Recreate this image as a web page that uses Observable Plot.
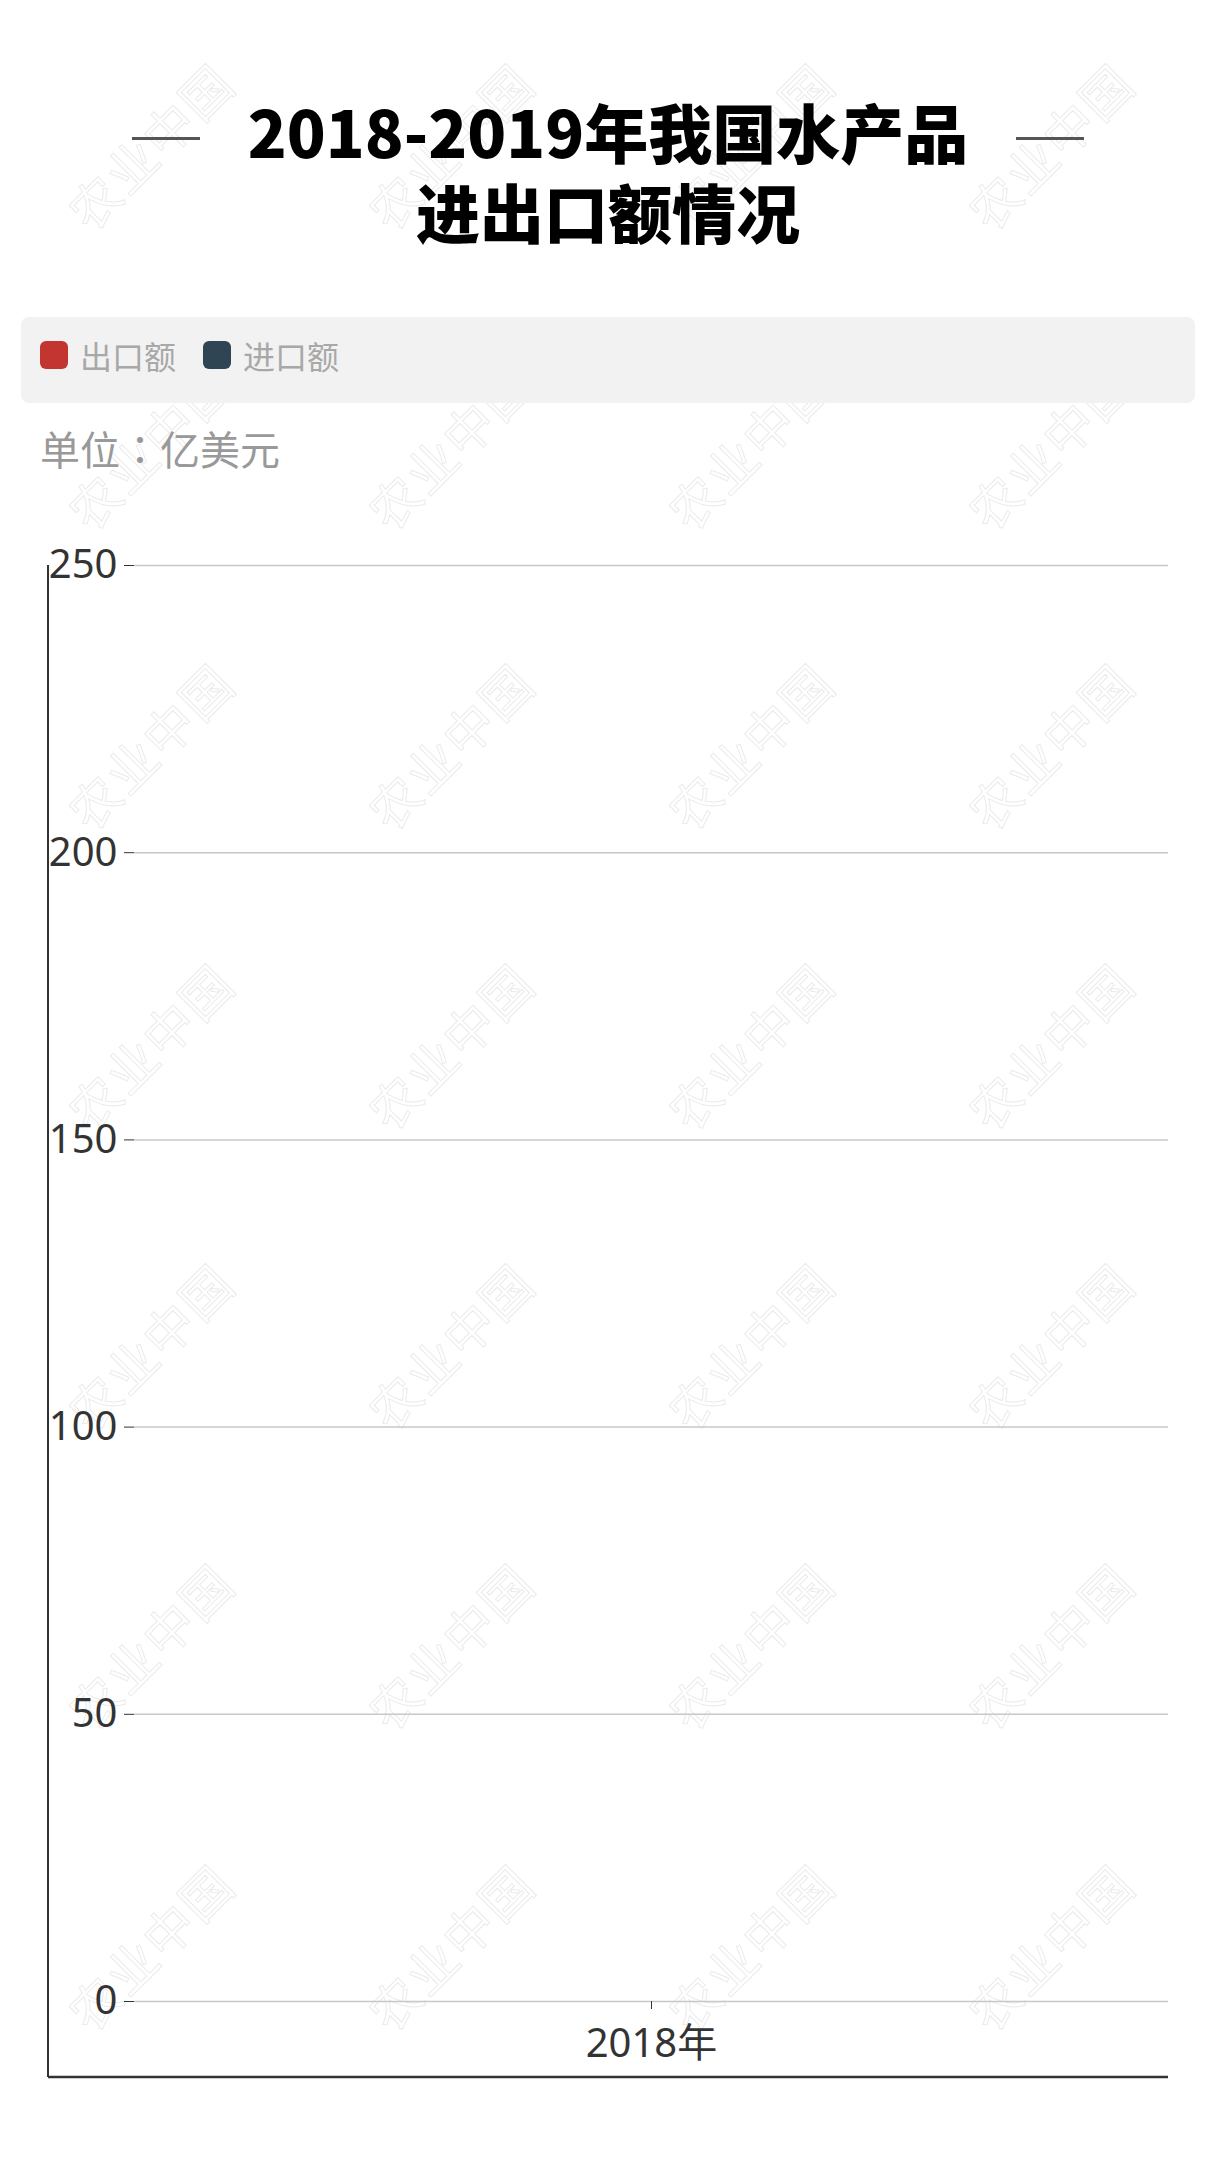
<!DOCTYPE html>
<html>
<head>
<meta charset="utf-8">
<script src="https://cdn.jsdelivr.net/npm/d3@7"></script>
<script src="https://cdn.jsdelivr.net/npm/@observablehq/plot@0.6"></script>
<style>
  html, body { margin: 0; padding: 0; background: #fff; }
  #page { position: relative; width: 1216px; height: 2160px; overflow: hidden; font-family: "Noto Sans CJK SC", "Noto Sans", sans-serif; }
  .wm { position: absolute; font-size: 50px; white-space: nowrap; color: transparent; -webkit-text-stroke: 1px #ebebeb; transform: translate(-50%, -50%) rotate(-45deg); z-index: 0; letter-spacing: 2px; }
  #title { position: absolute; left: 0; top: 90px; width: 1216px; text-align: center; font-size: 64px; font-weight: 900; line-height: 80px; color: #000; z-index: 2; }
  .dash { position: absolute; top: 137px; width: 68px; height: 3px; background: #555; z-index: 2; }
  #legend { position: absolute; left: 21px; top: 317px; width: 1174px; height: 86px; background: #f2f2f2; border-radius: 8px; display: flex; align-items: center; padding-left: 19px; padding-bottom: 10px; box-sizing: border-box; z-index: 2; }
  .item { display: flex; align-items: center; margin-right: 27px; font-size: 32px; color: #a8a8a8; }
  .sw { width: 28px; height: 28px; border-radius: 6px; margin-right: 12px; }
  #unit { position: absolute; left: 40px; top: 422px; font-size: 40px; line-height: 52px; color: #999; z-index: 2; font-family: "Noto Sans CJK TC", "Noto Sans CJK SC", sans-serif; }
  #chart { position: absolute; left: 0; top: 500px; z-index: 1; }
</style>
</head>
<body>
<div id="page">
  <div id="title"></div>
  <div class="dash" style="left:132px"></div>
  <div class="dash" style="left:1016px"></div>
  <div id="legend"></div>
  <div id="unit"></div>
  <div id="chart"></div>
</div>
<script>
// ---- data ----
const titleLines = ["2018-2019年我国水产品", "进出口额情况"];
const unitLabel = "单位：亿美元";
const categories = ["2018年"];
const seriesNames = ["出口额", "进口额"];
// The reference shows the bars at zero height (captured before they grew in).
const exportValues = [0];
const importValues = [0];
const yTicks = [0, 50, 100, 150, 200, 250];
const seriesColors = ["#c23531", "#2f4554"];
const watermarkText = "农业中国";
const watermarkCols = [149, 449, 749, 1049];
const watermarkRows = [145, 445, 745, 1045, 1345, 1645, 1946];

(function () {
  // ---- page text ----
  const page = document.getElementById("page");
  for (const wy of watermarkRows) for (const wx of watermarkCols) {
    const s = document.createElement("div");
    s.className = "wm";
    s.style.left = wx + "px";
    s.style.top = wy + "px";
    s.textContent = watermarkText;
    page.appendChild(s);
  }
  const t = document.getElementById("title");
  t.appendChild(document.createTextNode(titleLines[0]));
  t.appendChild(document.createElement("br"));
  t.appendChild(document.createTextNode(titleLines[1]));
  document.getElementById("unit").textContent = unitLabel;
  document.getElementById("legend").innerHTML = seriesNames.map((n, i) =>
    `<div class="item"><div class="sw" style="background:${seriesColors[i]}"></div>${n}</div>`).join("");

  // ---- chart ----
  const rows = categories.flatMap((c, i) => [
    {category: c, series: seriesNames[0], value: exportValues[i]},
    {category: c, series: seriesNames[1], value: importValues[i]}
  ]);

  const chart = Plot.plot({
    width: 1216,
    height: 1620,
    marginTop: 65,
    marginBottom: 119,
    marginLeft: 134,
    marginRight: 48,
    style: {fontFamily: "'Noto Sans', 'Noto Sans CJK SC', sans-serif", fontSize: "40px", color: "#333", background: "transparent", overflow: "visible"},
    fx: {domain: categories, padding: 0, label: null},
    x: {domain: seriesNames, axis: null, padding: 0.3},
    y: {domain: [0, 250], label: null},
    color: {domain: seriesNames, range: seriesColors},
    marks: [
      Plot.gridY(yTicks, {stroke: "#c8c8c8", strokeOpacity: 1, strokeWidth: 1.5}),
      Plot.axisY(yTicks, {tickSize: 10, tickPadding: 7, fontSize: 40, stroke: "#333", label: null}),
      Plot.axisFx({anchor: "bottom", tickSize: 8, tickPadding: 19, fontSize: 40, stroke: "#333", label: null}),
      Plot.barY(rows, {fx: "category", x: "series", y: "value", fill: "series"})
    ]
  });
  document.getElementById("chart").appendChild(chart);

  // outer axis frame lines (left and bottom)
  const ys = chart.scale("y");
  const svg = d3.select(chart);
  const frameTop = ys.apply(250);
  const frameBottom = 1577;
  const frameLeft = 48;
  const frameRight = 1216 - 48;
  svg.append("line").attr("x1", frameLeft).attr("x2", frameLeft).attr("y1", frameTop).attr("y2", frameBottom)
    .attr("stroke", "#333").attr("stroke-width", 2);
  svg.append("line").attr("x1", frameLeft).attr("x2", frameRight).attr("y1", frameBottom).attr("y2", frameBottom)
    .attr("stroke", "#333").attr("stroke-width", 2.5);
})();
</script>
</body>
</html>
